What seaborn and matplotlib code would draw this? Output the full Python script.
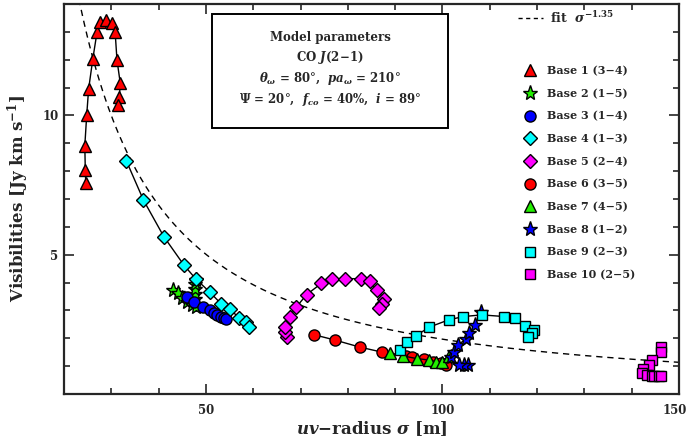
import numpy as np
import pandas as pd
import matplotlib
matplotlib.use("Agg")
import matplotlib.pyplot as plt
from matplotlib.lines import Line2D
import matplotlib.transforms as mtrans
import seaborn as sns

# ---------------- data ----------------
b1_x = [24.6, 24.5, 24.4, 24.8, 25.2, 26.1, 27.0, 27.7, 28.9, 30.2, 30.8, 31.2, 31.9, 31.7, 31.5]
b1_y = [7.59, 8.03, 8.92, 10.01, 10.94, 12.04, 13.01, 13.36, 13.43, 13.33, 13.01, 11.99, 11.15, 10.67, 10.36]

b2_x = [43.1, 44.1, 45.0, 45.9, 47.1, 47.8, 47.7, 47.7, 47.7, 47.7, 47.8]
b2_y = [3.74, 3.62, 3.46, 3.32, 3.20, 3.14, 3.40, 3.60, 3.78, 3.95, 4.10]

b3_x = [45.9, 47.5, 49.3, 50.8, 51.7, 52.4, 53.1, 53.8, 54.3]
b3_y = [3.50, 3.32, 3.12, 3.00, 2.90, 2.84, 2.78, 2.74, 2.69]

b4_x = [33.2, 36.8, 41.1, 45.3, 47.8, 50.8, 53.2, 55.0, 57.0, 58.4, 59.1]
b4_y = [8.36, 6.96, 5.65, 4.64, 4.14, 3.66, 3.24, 3.05, 2.74, 2.60, 2.40]

b5_x = [67.1, 66.8, 66.8, 67.7, 69.1, 71.3, 74.4, 76.6, 79.4, 82.8, 84.6, 86.2, 87.7, 87.2, 86.5]
b5_y = [2.04, 2.21, 2.42, 2.78, 3.12, 3.57, 3.97, 4.12, 4.14, 4.14, 4.05, 3.72, 3.41, 3.24, 3.08]

b6_x = [72.8, 77.2, 82.6, 87.3, 92.3, 93.6, 96.2, 98.1, 99.7, 100.7]
b6_y = [2.13, 1.94, 1.68, 1.50, 1.37, 1.32, 1.25, 1.16, 1.10, 1.04]

b7_x = [88.9, 91.6, 94.6, 97.2, 98.6, 99.9, 101.4]
b7_y = [1.46, 1.37, 1.27, 1.22, 1.16, 1.14, 1.36]

b8_x = [105.5, 104.6, 103.5, 101.8, 102.5, 103.2, 105.0, 105.7, 106.9, 108.1]
b8_y = [1.04, 1.04, 1.04, 1.32, 1.52, 1.76, 1.97, 2.18, 2.48, 2.96]

b9_x = [91.0, 92.6, 94.4, 97.2, 101.3, 104.4, 108.3, 113.1, 115.4, 117.5, 119.4, 119.0, 118.1]
b9_y = [1.58, 1.85, 2.09, 2.40, 2.66, 2.78, 2.84, 2.78, 2.72, 2.45, 2.30, 2.18, 2.06]

b10_x = [146.1, 146.1, 144.3, 143.6, 142.4, 142.2, 143.3, 144.3, 144.8, 145.7, 146.2]
b10_y = [1.70, 1.52, 1.22, 1.04, 0.89, 0.77, 0.68, 0.66, 0.66, 0.66, 0.66]

base_labels = ["Base 1 (3\u22124)", "Base 2 (1\u22125)", "Base 3 (1\u22124)", "Base 4 (1\u22123)",
               "Base 5 (2\u22124)", "Base 6 (3\u22125)", "Base 7 (4\u22125)", "Base 8 (1\u22122)",
               "Base 9 (2\u22123)", "Base 10 (2\u22125)"]
base_colors = ["#ff0000", "#22ee00", "#0000ff", "#00ffff", "#ff00ff",
               "#ff0000", "#22ee00", "#0000ff", "#00ffff", "#ff00ff"]
base_markers = ["^", "*", "o", "D", "D", "o", "^", "*", "s", "s"]
base_msizes = [8, 11, 8, 7.2, 7.2, 8, 8, 11, 6.8, 6.8]

fit_amp = 986.0
fit_exp = -1.35

xs = [b1_x, b2_x, b3_x, b4_x, b5_x, b6_x, b7_x, b8_x, b9_x, b10_x]
ys = [b1_y, b2_y, b3_y, b4_y, b5_y, b6_y, b7_y, b8_y, b9_y, b10_y]

# ---------------- style ----------------
sns.set_style("ticks")
plt.rcParams["font.family"] = ["DejaVu Serif"]
plt.rcParams["mathtext.fontset"] = "dejavuserif"
plt.rcParams["font.weight"] = "bold"

fig = plt.figure(figsize=(6.88, 4.42), dpi=100)
ax = fig.add_axes([64 / 688, 1 - 394 / 442, 615 / 688, 390 / 442])

# fit curve
sig = np.linspace(20, 150, 400)
fit_df = pd.DataFrame({"x": sig, "y": fit_amp * sig ** fit_exp})
sns.lineplot(data=fit_df, x="x", y="y", ax=ax, color="black", lw=1.0,
             linestyle=(0, (4.5, 3.5)), estimator=None, sort=False)

for i in range(10):
    df = pd.DataFrame({"x": xs[i], "y": ys[i]})
    sns.lineplot(data=df, x="x", y="y", ax=ax, estimator=None, sort=False,
                 color="black", lw=1.0, marker=base_markers[i],
                 markersize=base_msizes[i], markerfacecolor=base_colors[i],
                 markeredgecolor="black", markeredgewidth=1.0, zorder=3 + i)

ax.set_xlim(20, 150)
ax.set_ylim(0, 14)
ax.set_xticks([50, 100, 150])
ax.set_xticks(np.arange(20, 151, 10), minor=True)
ax.set_yticks([5, 10])
ax.set_yticks(np.arange(1, 14, 1), minor=True)
ax.tick_params(which="both", direction="in", top=True, right=True, width=1.2,
               labelsize=8.5)
ax.tick_params(axis="x", pad=7)
ax.tick_params(axis="y", pad=4)
ax.tick_params(which="major", length=7)
ax.tick_params(which="minor", length=4.5)
for lab in ax.get_xticklabels() + ax.get_yticklabels():
    lab.set_fontweight("bold")
# keep the last x tick label fully inside the canvas
lastlab = ax.get_xticklabels()[-1]
lastlab.set_transform(lastlab.get_transform() +
                      mtrans.ScaledTranslation(-4 / 100, 0, fig.dpi_scale_trans))
for s in ax.spines.values():
    s.set_linewidth(1.6)

ax.set_xlabel(r"$uv$$-$radius $\sigma$ [m]", fontsize=12, fontweight="bold", labelpad=2)
ax.set_ylabel(r"Visibilities [Jy km s$^{-1}$]", fontsize=12, fontweight="bold", labelpad=8)

# model parameter box
box = plt.Rectangle((0.241, 0.682), 0.383, 0.292, transform=ax.transAxes,
                    fill=False, lw=1.4, edgecolor="black", zorder=20)
ax.add_patch(box)
cx = 0.433
lines = ["Model parameters",
         r"CO $J(2\!-\!1)$",
         r"$\theta_\omega$ = 80°,  $pa_\omega$ = 210°",
         r"$\Psi$ = 20°,  $f_{co}$ = 40%,  $i$ = 89°"]
for k, (t, yy) in enumerate(zip(lines, [0.915, 0.862, 0.808, 0.754])):
    ax.text(cx, yy, t, transform=ax.transAxes, ha="center", va="center",
            fontsize=8.5, fontweight="bold", zorder=21)

# legends
fit_handle = Line2D([], [], color="black", lw=1.0, linestyle=(0, (3, 2.5)))
leg1 = ax.legend([fit_handle], [r"fit  $\sigma^{-1.35}$"], loc="upper left",
                 bbox_to_anchor=(0.738, 0.985), frameon=False, borderpad=0,
                 borderaxespad=0, handlelength=2.0, handletextpad=0.6,
                 prop={"size": 9, "weight": "bold"})
ax.add_artist(leg1)

handles = [Line2D([], [], linestyle="none", marker=base_markers[i],
                  markersize=base_msizes[i], markerfacecolor=base_colors[i],
                  markeredgecolor="black", markeredgewidth=1.0) for i in range(10)]
leg2 = ax.legend(handles, base_labels, loc="upper left",
                 bbox_to_anchor=(0.749, 0.843), frameon=False, borderpad=0,
                 borderaxespad=0, handlelength=1.0, handletextpad=1.0,
                 labelspacing=1.05, prop={"size": 8, "weight": "bold"})

fig.savefig("out.png", dpi=100)
